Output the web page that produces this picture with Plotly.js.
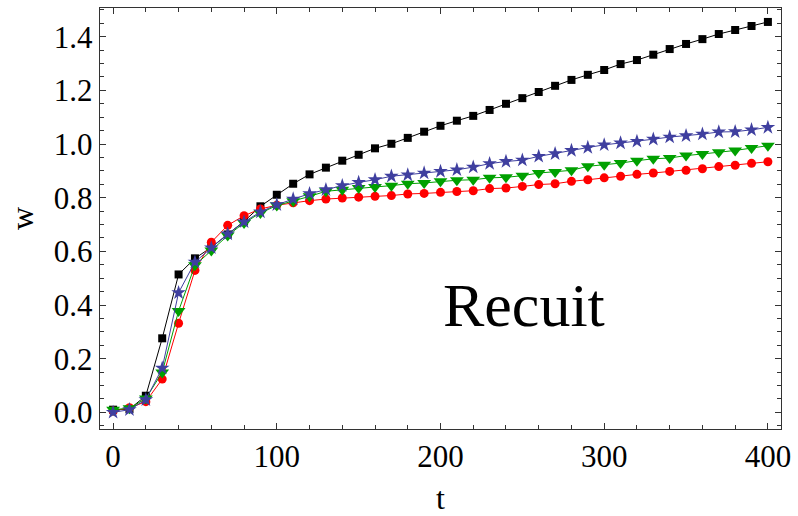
<!DOCTYPE html>
<html>
<head>
<meta charset="utf-8">
<script src="https://cdn.plot.ly/plotly-3.0.1.min.js"></script>
<style>html,body{margin:0;padding:0;background:#fff;}#chart{width:798px;height:516px;}</style>
</head>
<body>
<div id="chart"></div>
<script>
const t = [0,10,20,30,40,50,60,70,80,90,100,110,120,130,140,150,160,170,180,190,200,210,220,230,240,250,260,270,280,290,300,310,320,330,340,350,360,370,380,390,400];

const wBlack = [0.010,0.012,0.062,0.276,0.514,0.574,0.615,0.663,0.712,0.768,0.811,0.852,0.887,0.912,0.938,0.960,0.984,1.001,1.023,1.046,1.068,1.087,1.105,1.127,1.150,1.171,1.194,1.217,1.239,1.258,1.276,1.298,1.313,1.333,1.354,1.373,1.391,1.410,1.425,1.440,1.455];

const wBlue = [0.000,0.010,0.047,0.165,0.446,0.560,0.613,0.665,0.710,0.747,0.774,0.795,0.815,0.830,0.845,0.857,0.867,0.880,0.885,0.892,0.898,0.904,0.914,0.927,0.935,0.940,0.954,0.964,0.976,0.987,0.997,1.004,1.010,1.018,1.026,1.031,1.037,1.045,1.046,1.053,1.062];

const wGreen = [0.010,0.015,0.052,0.149,0.378,0.548,0.603,0.659,0.706,0.743,0.771,0.787,0.805,0.824,0.830,0.836,0.840,0.845,0.852,0.855,0.861,0.865,0.867,0.874,0.876,0.882,0.892,0.896,0.902,0.917,0.923,0.929,0.938,0.945,0.948,0.957,0.963,0.969,0.976,0.985,0.994];

const wRed = [0.005,0.017,0.040,0.124,0.332,0.529,0.634,0.697,0.733,0.758,0.772,0.781,0.789,0.795,0.799,0.802,0.805,0.808,0.814,0.816,0.820,0.823,0.826,0.834,0.836,0.842,0.849,0.852,0.861,0.867,0.874,0.880,0.887,0.892,0.898,0.902,0.908,0.916,0.921,0.928,0.934];

const xTickVals = [0,100,200,300,400];
const yTickVals = [0.0,0.2,0.4,0.6,0.8,1.0,1.2,1.4];
const yTickText = ["0.0","0.2","0.4","0.6","0.8","1.0","1.2","1.4"];
const label = "Recuit";

const serif = "Liberation Serif, Times New Roman, serif";

const traces = [
  {x: t, y: wBlack, mode: "lines+markers", line: {color: "#000000", width: 1},
   marker: {symbol: "square", size: 8, color: "#000000"}},
  {x: t, y: wRed, mode: "lines+markers", line: {color: "#ff0000", width: 1},
   marker: {symbol: "circle", size: 9, color: "#ff0000"}},
  {x: t, y: wGreen, mode: "lines+markers", line: {color: "#00a000", width: 1},
   marker: {symbol: "triangle-down", size: 12, color: "#00a000"}},
  {x: t, y: wBlue, mode: "lines+markers", line: {color: "#3f3f9f", width: 1},
   marker: {symbol: "star", size: 11, color: "#3f3f9f"}}
];

const layout = {
  width: 798, height: 516,
  margin: {l: 100, r: 17, t: 8, b: 87},
  showlegend: false,
  paper_bgcolor: "#ffffff", plot_bgcolor: "#ffffff",
  font: {family: serif, color: "#000"},
  xaxis: {
    range: [-8, 408], showgrid: false, zeroline: false,
    showline: true, linecolor: "#333", linewidth: 1.2, mirror: "allticks",
    ticks: "inside", ticklen: 6, tickwidth: 1, tickcolor: "#333",
    tickvals: xTickVals, ticktext: xTickVals.map(String),
    tickfont: {family: serif, size: 31, color: "#000"},
    minor: {dtick: 20, tick0: 0, ticks: "inside", ticklen: 4, tickcolor: "#333", showgrid: false},
    title: {text: "t", font: {family: serif, size: 32, color: "#000"}, standoff: 14}
  },
  yaxis: {
    range: [-0.062, 1.507], showgrid: false, zeroline: false,
    showline: true, linecolor: "#333", linewidth: 1.2, mirror: "allticks",
    ticks: "inside", ticklen: 6, tickwidth: 1, tickcolor: "#333",
    tickvals: yTickVals, ticktext: yTickText,
    tickfont: {family: serif, size: 31, color: "#000"},
    minor: {dtick: 0.05, tick0: 0, ticks: "inside", ticklen: 4, tickcolor: "#333", showgrid: false},
    title: {text: "w", font: {family: serif, size: 32, color: "#000"}, standoff: 10}
  },
  annotations: [{
    x: 251, y: 0.40, xref: "x", yref: "y", text: label, showarrow: false,
    font: {family: serif, size: 62, color: "#000"}, xanchor: "center", yanchor: "middle"
  }]
};

Plotly.newPlot("chart", traces, layout, {displayModeBar: false, staticPlot: true});
</script>
</body>
</html>
